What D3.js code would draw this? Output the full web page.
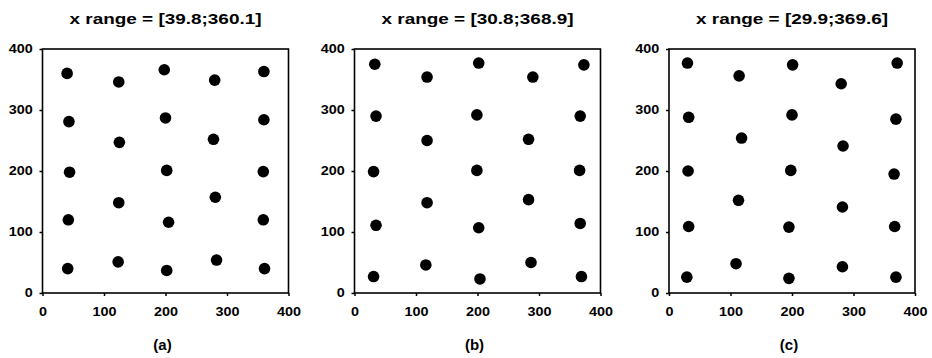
<!DOCTYPE html>
<html>
<head>
<meta charset="utf-8">
<script src="https://cdn.jsdelivr.net/npm/d3@7"></script>
<style>
  html, body { margin: 0; padding: 0; background: #fff; }
  svg { display: block; }
  text { font-family: "Liberation Sans", Arial, sans-serif; font-weight: bold; fill: #000; }
</style>
</head>
<body>
<div id="chart"></div>
<script>
const WIDTH = 932;
const HEIGHT = 358;

const TICKS = [0, 100, 200, 300, 400];
const TITLES = ["x range = [39.8;360.1]", "x range = [30.8;368.9]", "x range = [29.9;369.6]"];
const PANEL_LABELS = ["(a)", "(b)", "(c)"];

// points, row by row from the top
const xA = [40, 124, 198, 280, 360, 43, 125, 200, 278, 360, 44, 202, 359, 124, 281, 42, 205, 359, 41, 123, 202, 283, 361];
const yA = [360, 346, 366, 349, 363, 281, 247, 287, 252, 284, 198, 201, 199, 148, 157, 120, 116, 120, 40, 51, 37, 54, 40];

const xB = [33, 118, 202, 290, 373, 35, 118, 199, 283, 367, 31, 199, 366, 118, 283, 35, 202, 367, 31, 116, 204, 287, 369];
const yB = [375, 354, 377, 354, 374, 290, 250, 292, 252, 290, 199, 201, 201, 148, 153, 111, 107, 114, 27, 46, 23, 50, 27];

const xC = [30, 114, 201, 280, 371, 32, 118, 200, 283, 369, 31, 198, 366, 113, 282, 32, 195, 367, 29, 109, 195, 282, 369];
const yC = [377, 356, 374, 343, 377, 288, 254, 292, 241, 285, 200, 201, 195, 152, 141, 109, 108, 109, 26, 48, 24, 43, 26];

const PANELS = [
  { left: 42.5, xs: xA, ys: yA },
  { left: 354.5, xs: xB, ys: yB },
  { left: 669, xs: xC, ys: yC },
];

const PLOT_W = 246;
const PLOT_TOP = 49;
const PLOT_BOTTOM = 293;

const svg = d3.select("#chart")
  .append("svg")
  .attr("width", WIDTH)
  .attr("height", HEIGHT);

// scanned labels are wider than the font: stretch each to ~8px per digit
function styleTicks(ax) {
  ax.select(".domain").remove();
  ax.selectAll("line").attr("stroke", "#000").attr("stroke-width", 1.5);
  ax.selectAll("text")
    .attr("font-size", 12)
    .attr("font-family", null)
    .attr("textLength", (d) => String(d).length * 8)
    .attr("lengthAdjust", "spacingAndGlyphs");
}

PANELS.forEach((p, i) => {
  const x = d3.scaleLinear().domain([0, 400]).range([p.left, p.left + PLOT_W]);
  const y = d3.scaleLinear().domain([0, 400]).range([PLOT_BOTTOM, PLOT_TOP]);

  const g = svg.append("g").attr("class", "panel");

  g.append("g")
    .attr("transform", `translate(0,${PLOT_BOTTOM})`)
    .call(d3.axisBottom(x).tickValues(TICKS).tickSize(3).tickPadding(11.5).tickFormat(d3.format("d")))
    .call(styleTicks);

  g.append("g")
    .attr("transform", `translate(${p.left},0)`)
    .call(d3.axisLeft(y).tickValues(TICKS).tickSize(3).tickPadding(6.8).tickFormat(d3.format("d")))
    .call(styleTicks);

  g.append("rect")
    .attr("x", x(0))
    .attr("y", y(400))
    .attr("width", x(400) - x(0))
    .attr("height", y(0) - y(400))
    .attr("fill", "none")
    .attr("stroke", "#000")
    .attr("stroke-width", 1.6);

  const pts = p.xs.map((v, j) => ({ x: v, y: p.ys[j] }));
  g.append("g")
    .selectAll("circle")
    .data(pts)
    .join("circle")
    .attr("cx", (d) => x(d.x))
    .attr("cy", (d) => y(d.y))
    .attr("r", 5.8)
    .attr("fill", "#000");

  const cx = (x(0) + x(400)) / 2;
  g.append("text")
    .attr("x", cx)
    .attr("y", 24)
    .attr("text-anchor", "middle")
    .attr("font-size", 14)
    .attr("textLength", 192)
    .attr("lengthAdjust", "spacingAndGlyphs")
    .text(TITLES[i]);

  g.append("text")
    .attr("x", cx - 3)
    .attr("y", 350)
    .attr("text-anchor", "middle")
    .attr("font-size", 15)
    .text(PANEL_LABELS[i]);
});
</script>
</body>
</html>
